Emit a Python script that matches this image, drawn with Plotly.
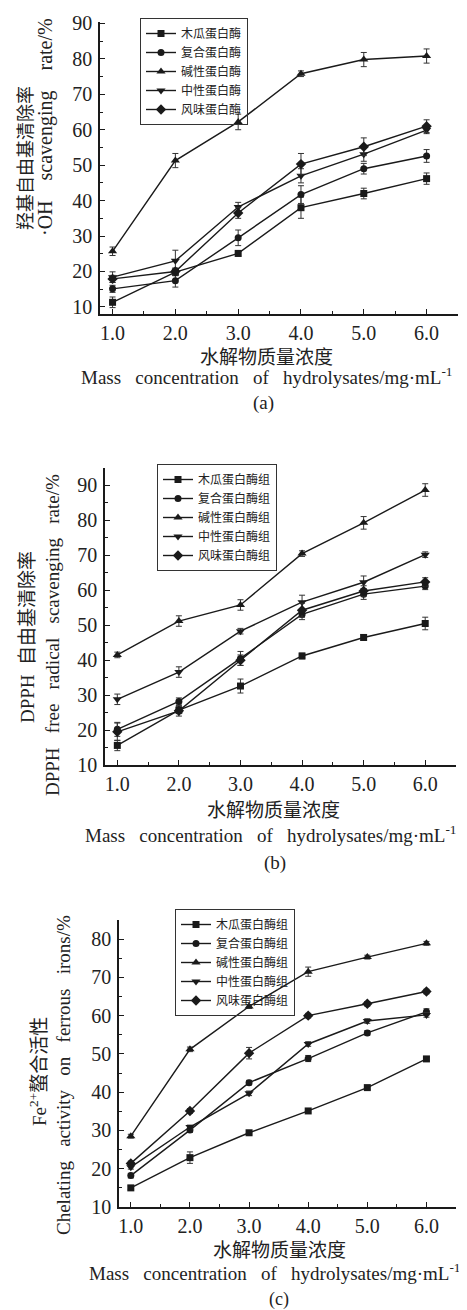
import plotly.graph_objects as go

# reference canvas and page offset (browser body margin)
REF_W, REF_H = 467, 1310
OFF = 8
W, H = REF_W - OFF, REF_H - OFF

x_conc = [1.0, 2.0, 3.0, 4.0, 5.0, 6.0]

names_a = ["木瓜蛋白酶", "复合蛋白酶", "碱性蛋白酶", "中性蛋白酶", "风味蛋白酶"]
names_bc = ["木瓜蛋白酶组", "复合蛋白酶组", "碱性蛋白酶组", "中性蛋白酶组", "风味蛋白酶组"]

# (a) hydroxyl radical scavenging rate /%
oh_papain = [11.3, 19.8, 25.1, 38.0, 42.0, 46.2]
oh_compound = [15.1, 17.4, 29.5, 41.7, 49.0, 52.6]
oh_alkaline = [25.7, 51.3, 62.2, 75.8, 79.8, 80.8]
oh_neutral = [18.4, 23.0, 38.2, 47.0, 53.1, 59.9]
oh_flavour = [17.9, 20.0, 36.5, 50.3, 55.2, 61.0]
oh_err_papain = [1.5, 1.0, 0.8, 3.0, 1.5, 1.6]
oh_err_compound = [1.0, 1.8, 2.2, 2.5, 1.5, 1.8]
oh_err_alkaline = [1.2, 2.0, 2.2, 0.8, 2.0, 2.0]
oh_err_neutral = [1.5, 3.0, 1.3, 2.0, 2.0, 1.0]
oh_err_flavour = [1.0, 1.0, 1.5, 3.0, 2.5, 1.8]

# (b) DPPH free radical scavenging rate /%
dp_papain = [15.6, 25.7, 32.6, 41.2, 46.5, 50.5]
dp_compound = [20.2, 28.2, 40.5, 53.1, 58.9, 61.2]
dp_alkaline = [41.5, 51.2, 55.8, 70.5, 79.3, 88.7]
dp_neutral = [28.8, 36.6, 48.3, 56.6, 62.3, 70.2]
dp_flavour = [19.5, 25.5, 40.0, 54.3, 59.8, 62.4]
dp_err_papain = [1.5, 1.0, 2.0, 0.8, 0.8, 1.8]
dp_err_compound = [2.0, 1.0, 2.0, 1.5, 1.5, 1.0]
dp_err_alkaline = [0.8, 1.5, 1.5, 0.8, 1.8, 1.8]
dp_err_neutral = [1.5, 1.5, 0.8, 2.0, 1.8, 0.8]
dp_err_flavour = [2.5, 1.5, 1.5, 2.0, 1.5, 1.2]

# (c) Fe2+ chelating activity /%
fe_papain = [15.0, 22.9, 29.4, 35.1, 41.2, 48.7]
fe_compound = [18.2, 30.1, 42.5, 48.8, 55.5, 61.0]
fe_alkaline = [28.5, 51.2, 62.4, 71.5, 75.3, 78.9]
fe_neutral = [20.4, 30.9, 39.7, 52.6, 58.6, 60.2]
fe_flavour = [21.4, 35.1, 50.2, 60.0, 63.1, 66.3]
fe_err_papain = [0.5, 1.5, 0.5, 0.5, 0.5, 0.5]
fe_err_compound = [0.6, 0.6, 0.6, 0.8, 0.6, 0.8]
fe_err_alkaline = [0.5, 0.6, 0.5, 1.2, 0.5, 0.5]
fe_err_neutral = [0.5, 0.5, 0.6, 0.6, 0.6, 0.6]
fe_err_flavour = [0.6, 0.6, 1.5, 0.6, 0.6, 0.6]

symbols = ["square", "circle", "triangle-up", "triangle-down", "diamond"]
msizes = [7, 7, 8, 8, 8]

INK = "#1a1a1a"
SERIF = "Liberation Serif, Noto Sans CJK SC"
CJK = "Noto Sans CJK SC, Liberation Serif"
NB = "\u00a0"


def sp(s, n=3):
    return s.replace(" ", NB * n)


def px(x):
    return (x - OFF) / W


def py(y):
    return 1 - (y - OFF) / H


fig = go.Figure()

panels = [
    ("x", "y", "legend", names_a,
     [oh_papain, oh_compound, oh_alkaline, oh_neutral, oh_flavour],
     [oh_err_papain, oh_err_compound, oh_err_alkaline, oh_err_neutral, oh_err_flavour]),
    ("x2", "y2", "legend2", names_bc,
     [dp_papain, dp_compound, dp_alkaline, dp_neutral, dp_flavour],
     [dp_err_papain, dp_err_compound, dp_err_alkaline, dp_err_neutral, dp_err_flavour]),
    ("x3", "y3", "legend3", names_bc,
     [fe_papain, fe_compound, fe_alkaline, fe_neutral, fe_flavour],
     [fe_err_papain, fe_err_compound, fe_err_alkaline, fe_err_neutral, fe_err_flavour]),
]

for xa, ya, lg, names, series, errs in panels:
    for i, (nm, vals, er) in enumerate(zip(names, series, errs)):
        fig.add_trace(go.Scatter(
            x=x_conc, y=vals, name=nm, xaxis=xa, yaxis=ya, legend=lg,
            mode="lines+markers",
            line=dict(color=INK, width=1.4),
            marker=dict(symbol=symbols[i], size=msizes[i], color=INK),
            error_y=dict(type="data", array=er, visible=True,
                         color="#333", thickness=1, width=3),
        ))

# axis geometry (reference pixels): left, right, top, bottom
geo = {
    "1": (100, 458, 22, 314, [8, 90.4], [10, 20, 30, 40, 50, 60, 70, 80, 90]),
    "2": (105, 456, 468, 765, [10, 95], [10, 20, 30, 40, 50, 60, 70, 80, 90]),
    "3": (119, 456, 920, 1207, [10, 85], [10, 20, 30, 40, 50, 60, 70, 80]),
}

layout = dict(
    width=W, height=H, autosize=False,
    margin=dict(l=0, r=0, t=0, b=0, pad=0, autoexpand=False),
    paper_bgcolor="white", plot_bgcolor="white",
    showlegend=True,
)

for k, (l, r, t, b, yr, yt) in geo.items():
    sfx = "" if k == "1" else k
    layout["xaxis" + sfx] = dict(
        domain=[px(l), px(r)], range=[0.8, 6.5], anchor="y" + sfx,
        tickmode="array", tickvals=x_conc, ticktext=[f"{v:.1f}" for v in x_conc],
        ticks="inside", ticklen=5, tickwidth=1.2, tickcolor=INK,
        minor=dict(tickmode="array", tickvals=[1.5, 2.5, 3.5, 4.5, 5.5], ticks="inside",
                   ticklen=3, tickwidth=1.2, tickcolor=INK),
        showline=True, linecolor=INK, linewidth=1.5, mirror=False,
        showgrid=False, zeroline=False, automargin=False,
        tickfont=dict(family=SERIF, size=20, color="#222"),
        ticklabelstandoff=0,
    )
    layout["yaxis" + sfx] = dict(
        domain=[py(b), py(t)], range=yr, anchor="x" + sfx,
        tickmode="array", tickvals=yt, ticktext=[str(v) for v in yt],
        ticks="inside", ticklen=5, tickwidth=1.2, tickcolor=INK,
        minor=dict(tickmode="array", tickvals=[v + 5 for v in yt if v + 5 < yr[1]], ticks="inside",
                   ticklen=3, tickwidth=1.2, tickcolor=INK),
        showline=True, linecolor=INK, linewidth=1.5, mirror=False,
        showgrid=False, zeroline=False, automargin=False,
        tickfont=dict(family=SERIF, size=20, color="#222"),
        ticklabelstandoff=2,
    )

leg_common = dict(
    xanchor="left", yanchor="top", bgcolor="rgba(255,255,255,0)",
    bordercolor="#333", borderwidth=1,
    font=dict(family=CJK, size=12, color="#222"),
    itemwidth=30, tracegroupgap=0,
)
layout["legend"] = dict(x=px(140), y=py(18), **leg_common)
layout["legend2"] = dict(x=px(157), y=py(464), **leg_common)
layout["legend3"] = dict(x=px(175), y=py(909), **leg_common)

fig.update_layout(**layout)

ann = []


def add(text, x, y, size, family, angle=0):
    ann.append(dict(text=text, x=px(x), y=py(y), xref="paper", yref="paper",
                    xanchor="center", yanchor="middle", showarrow=False,
                    textangle=angle, font=dict(family=family, size=size, color="#222")))


xcap = sp("Mass concentration of hydrolysates/mg·mL", 3) + "<sup>-1</sup>"

# panel (a)
add("羟基自由基清除率", 24, 158, 18, CJK, -90)
add(sp("·OH scavenging rate/%", 4), 45, 127, 20, SERIF, -90)
add("水解物质量浓度", 266, 356, 19, CJK)
add(xcap, 266, 376, 19, SERIF)
add("(a)", 263, 403, 19, SERIF)
# panel (b)
add(sp("DPPH 自由基清除率", 2), 27, 637, 19, SERIF, -90)
add(sp("DPPH free radical scavenging rate/%", 3), 52, 635, 19, SERIF, -90)
add("水解物质量浓度", 273, 809, 19, CJK)
add(xcap, 270, 834, 19, SERIF)
add("(b)", 275, 863, 19, SERIF)
# panel (c)
add("Fe<sup>2+</sup>螯合活性", 38, 1072, 19, SERIF, -90)
add(sp("Chelating activity on ferrous irons/%", 3), 63, 1075, 19, SERIF, -90)
add("水解物质量浓度", 279, 1248, 19, CJK)
add(xcap, 274, 1272, 19, SERIF)
add("(c)", 279, 1299, 18, SERIF)

fig.update_layout(annotations=ann)

fig.write_html("out.html")
